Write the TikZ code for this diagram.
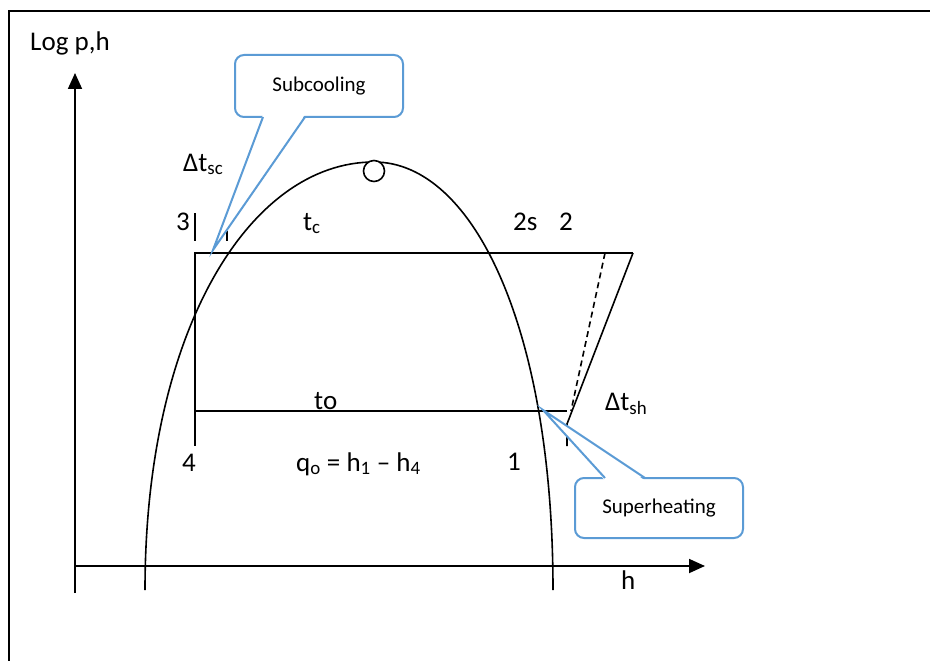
\documentclass[tikz,border=0pt]{standalone}
\usepackage{fontspec}
\setmainfont{Carlito}
\usetikzlibrary{arrows.meta}
\definecolor{callblue}{HTML}{5B9BD5}
\begin{document}
\begin{tikzpicture}[x=1pt,y=-1pt,
  line/.style={line width=1.6pt, black},
  lbl/.style={inner sep=0pt, anchor=base west, font=\fontsize{27}{30}\selectfont},
  cbox/.style={draw=callblue, line width=2pt, rounded corners=9pt, fill=white, inner sep=0pt, font=\fontsize{21}{24}\selectfont},
  cptr/.style={draw=callblue, line width=2pt, line join=miter},
  ax/.style={line width=1.8pt, -{Triangle[length=16pt,width=14pt]}}]
\useasboundingbox (0,0) rectangle (930,661);
\begin{scope}
  \clip (0,0) rectangle (930,661);
  \draw[line width=2pt] (9,11) rectangle (945,680);
\end{scope}
% axes
\coordinate (O) at (75,566);
\coordinate (ytip) at (75,73);
\coordinate (ybot) at (75,593);
\coordinate (xtip) at (705,566);
\draw[ax] (ybot) -- (ytip);
\draw[ax] (O) -- (xtip);
% saturation dome
\coordinate (domeL) at (145,590);
\coordinate (domeT) at (374,162);
\coordinate (domeR) at (553,590);
\draw[line] (domeL) .. controls (145,330) and (250,162) .. (domeT)
            .. controls (474,162) and (553,330) .. (domeR);
\node[circle, draw, line width=1.6pt, fill=white, minimum size=21pt, inner sep=0pt] (crit) at (374,171) {};
% cycle
\coordinate (p3) at (195,253);
\coordinate (p2) at (633,253);
\coordinate (p4) at (195,446);
\coordinate (e4) at (195,411);
\coordinate (p1) at (567,411);
\coordinate (k1) at (567,424);
\coordinate (k2) at (567,446);
\coordinate (p2s) at (605,253);
\coordinate (p1s) at (571,411);
\draw[line] (p2) -- (p3) -- (p4);
\draw[line] (e4) -- (p1);
\draw[line] (p2) -- (k1) -- (k2);
\draw[line, dash pattern=on 6pt off 4pt] (p2s) -- (p1s);
% subcooling ticks
\coordinate (t1a) at (195,213); \coordinate (t1b) at (195,241);
\coordinate (t2a) at (227,231); \coordinate (t2b) at (227,241);
\draw[line] (t1a) -- (t1b);
\draw[line] (t2a) -- (t2b);
% labels
\node[lbl] (logp) at (30,51) {Log p,h};
\node[lbl] (dtsc) at (183,171) {Δt\textsubscript{sc}};
\node[lbl] (n3) at (176,230) {3};
\node[lbl] (tc) at (303,230) {t\textsubscript{c}};
\node[lbl] (n2s) at (513,230) {2s};
\node[lbl] (n2) at (559,230) {2};
\node[lbl] (to) at (314,409) {to};
\node[lbl] (n4) at (182,471) {4};
\node[lbl] (qo) at (296,471) {q\textsubscript{o} = h\textsubscript{1} – h\textsubscript{4}};
\node[lbl] (n1) at (507,470) {1};
\node[lbl] (dtsh) at (605,410) {Δt\textsubscript{sh}};
\node[lbl] (hx) at (621,589) {h};
% callout: subcooling
\node[cbox, minimum width=168pt, minimum height=62pt] (sc) at (319,86) {Subcooling};
\coordinate (scA) at (263,117); \coordinate (scB) at (305,117); \coordinate (scTip) at (213,250);
\fill[white] (263,114.5) -- (scTip) -- (305,114.5) -- cycle;
\draw[cptr] (scA) -- (scTip) -- (scB);
% callout: superheating
\node[cbox, minimum width=168pt, minimum height=60pt] (sh) at (659,508) {Superheating};
\coordinate (shA) at (605,478); \coordinate (shB) at (645,478); \coordinate (shTip) at (543,410);
\fill[white] (605,480.5) -- (shTip) -- (645,480.5) -- cycle;
\draw[cptr] (shA) -- (shTip) -- (shB);
\end{tikzpicture}
\end{document}
